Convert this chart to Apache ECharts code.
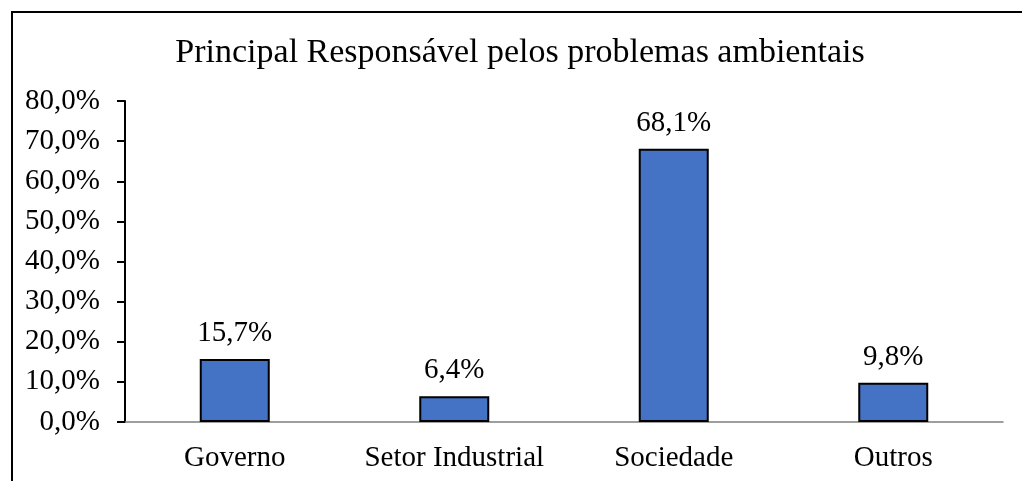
<!DOCTYPE html>
<html>
<head>
<meta charset="utf-8">
<script src="https://cdn.jsdelivr.net/npm/echarts@6/dist/echarts.min.js"></script>
<style>
html,body{margin:0;padding:0;background:#fff;}
#chart{width:1022px;height:481px;}
</style>
</head>
<body>
<div id="chart"></div>
<script>
var titleText = 'Principal Responsável pelos problemas ambientais';
var categories = ['Governo', 'Setor Industrial', 'Sociedade', 'Outros'];
var values = [15.7, 6.4, 68.1, 9.8];
var yMin = 0, yMax = 80, yStep = 10;

var FONT = "'Liberation Serif', 'Times New Roman', serif";
function pct(v) { return v.toFixed(1).replace('.', ',') + '%'; }

var chart = echarts.init(document.getElementById('chart'), null, {renderer: 'canvas'});
chart.setOption({
  animation: false,
  backgroundColor: '#ffffff',
  title: {
    text: titleText,
    left: 515,
    top: 31,
    textAlign: 'center',
    textStyle: {fontFamily: FONT, fontSize: 34, fontWeight: 'normal', color: '#000'}
  },
  graphic: [{
    type: 'polyline',
    shape: {points: [[12, 481], [12, 12], [1022, 12]]},
    style: {stroke: '#000', lineWidth: 2, fill: null},
    silent: true
  }],
  grid: {left: 125, right: 19, top: 101, bottom: 59, containLabel: false},
  xAxis: {
    type: 'category',
    data: categories,
    axisLine: {show: true, lineStyle: {color: '#7f7f7f', width: 1.5}},
    axisTick: {show: false},
    axisLabel: {fontFamily: FONT, fontSize: 29, color: '#000', margin: 22, interval: 0}
  },
  yAxis: {
    type: 'value',
    min: yMin, max: yMax, interval: yStep,
    axisLine: {show: true, lineStyle: {color: '#000', width: 2}},
    axisTick: {show: true, length: 8, lineStyle: {color: '#000', width: 2}},
    splitLine: {show: false},
    axisLabel: {fontFamily: FONT, fontSize: 29, color: '#000', margin: 25, formatter: function (v) { return pct(v); }}
  },
  series: [{
    type: 'bar',
    data: values,
    barWidth: 70,
    itemStyle: {color: '#4472C4', borderColor: '#000', borderWidth: 2},
    label: {
      show: true, position: 'top', distance: 11,
      fontFamily: FONT, fontSize: 29, color: '#000',
      formatter: function (p) { return pct(p.value); }
    }
  }]
});
</script>
</body>
</html>
